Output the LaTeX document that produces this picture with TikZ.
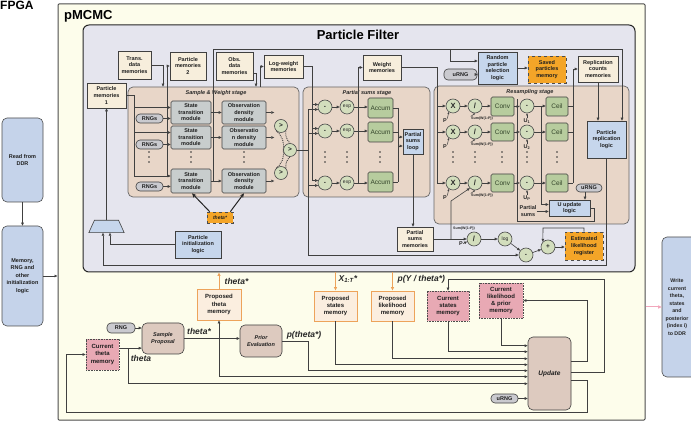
\documentclass[tikz,border=0pt]{standalone}
\usepackage{fontspec}
\setmainfont{Liberation Sans}
\usetikzlibrary{arrows.meta,shapes.geometric,calc}
\definecolor{cream}{HTML}{F7EEDC}
\definecolor{outerfill}{HTML}{FDFDEB}
\definecolor{pffill}{HTML}{E5E5EE}
\definecolor{stagefill}{HTML}{E8D6C8}
\definecolor{modfill}{HTML}{C8CDCD}
\definecolor{bluefill}{HTML}{C6D6EC}
\definecolor{orangefill}{HTML}{F4A528}
\definecolor{greenfill}{HTML}{B7CC9E}
\definecolor{greentext}{HTML}{33442A}
\definecolor{circfill}{HTML}{D3DEBD}
\definecolor{pinkfill}{HTML}{E8A9B4}
\definecolor{pillfill}{HTML}{CACACF}
\definecolor{tanfill}{HTML}{DDCABF}
\definecolor{propfill}{HTML}{FBEEDF}
\definecolor{propline}{HTML}{EDA35A}
\definecolor{ddrfill}{HTML}{C5D3EA}
\definecolor{pinkarrow}{HTML}{F2A7BC}
\tikzset{
  base/.style={draw=black!75, line width=0.6pt, inner sep=0.5pt, align=center, text=black!88, font=\fontsize{5.5}{6.6}\selectfont\bfseries},
  memb/.style={base, fill=cream},
  bluebox/.style={base, fill=bluefill},
  modb/.style={base, fill=modfill, rounded corners=1.5pt},
  orangebox/.style={base, fill=orangefill, dashed, draw=black!70},
  pinkbox/.style={base, fill=pinkfill, densely dotted, draw=black!70, line width=0.7pt, font=\fontsize{6}{7.2}\selectfont\bfseries},
  greenb/.style={base, fill=greenfill, rounded corners=1.5pt, text=greentext, font=\fontsize{6.5}{7}\selectfont},
  circ/.style={circle, draw=black!70, line width=0.6pt, fill=circfill, minimum size=14pt, inner sep=0pt, text=black!85, font=\fontsize{6.5}{7}\selectfont\bfseries},
  pill/.style={base, fill=pillfill, rounded corners=4pt},
  stagebox/.style={draw=black!60, line width=0.7pt, fill=stagefill, rounded corners=5pt},
  tanbox/.style={base, fill=tanfill, rounded corners=5pt, font=\fontsize{5.5}{6.6}\selectfont\bfseries\itshape},
  propmem/.style={base, draw=propline, line width=0.8pt, fill=propfill, font=\fontsize{6}{7.2}\selectfont\bfseries},
  ddrbox/.style={base, fill=ddrfill, rounded corners=5pt, draw=black!70, font=\fontsize{5.5}{7.5}\selectfont\bfseries},
  ln/.style={draw=black!75, line width=0.6pt},
  arr/.style={ln, -{Triangle[length=3pt,width=2.6pt]}},
  sarr/.style={ln, line width=0.5pt, -{Triangle[length=2pt,width=1.8pt]}},
  tarr/.style={draw=black!85, line width=1pt, -{Stealth[length=4.5pt,width=4pt]}},
  oarr/.style={draw=propline, line width=1pt, -{Triangle[length=3.5pt,width=3pt]}},
  lab/.style={font=\fontsize{8.5}{9}\selectfont\bfseries\itshape, text=black!85, inner sep=0.5pt},
  stlab/.style={font=\fontsize{5.5}{6}\selectfont\bfseries\itshape, text=black!85, inner sep=0.5pt},
  tinytxt/.style={font=\fontsize{3.6}{4}\selectfont\bfseries, inner sep=0.2pt, text=black!85},
  smalltxt/.style={font=\fontsize{5.5}{6.2}\selectfont\bfseries, align=center, inner sep=0.3pt, text=black!85},
  dotarc/.style={densely dotted, line width=0.9pt, black!75}
}
\newcommand{\MyBox}[7]{\node[#1, minimum width={(#5-#3)*1pt}, minimum height={(#6-#4)*1pt}] (#2) at ({(#3+#5)/2},{(#4+#6)/2}) {#7};}
\newcommand{\DotCol}[2]{\foreach \dy in {-5,0,5}{\fill[black!80] (#1,{#2+(\dy)}) circle (0.9pt);}}
\begin{document}
\begin{tikzpicture}[x=1pt,y=-1pt]
\useasboundingbox (0,0) rectangle (691,430);

% ---------- outer frames ----------
\node[anchor=base west, font=\fontsize{12}{12}\selectfont\bfseries, inner sep=0] (fpga) at (0,9.5) {FPGA};
\MyBox{draw=black!70, line width=1pt, fill=outerfill, rounded corners=1pt}{pmcmc}{58}{4}{645}{420}{}
\node[anchor=base west, font=\fontsize{13}{13}\selectfont\bfseries, inner sep=0] (pmlab) at (64,20) {pMCMC};

\MyBox{ddrbox}{rddr}{2}{118}{43}{202}{Read from\\DDR}
\MyBox{ddrbox}{minit}{2}{226}{43}{326}{Memory,\\RNG and\\other\\initialization\\logic}
\MyBox{ddrbox}{wddr}{662}{237}{700}{377}{}
\node[smalltxt, font=\fontsize{5.3}{7.5}\selectfont\bfseries] (wtxt) at (677,307) {Write\\current\\theta,\\states\\and\\posterior\\(index i)\\to DDR};
\draw[arr] (rddr) -- (minit);
\draw[arr] (minit.east) -- (minit.east -| pmcmc.west);
\draw[draw=pinkarrow, line width=1pt, -{Triangle[length=3.5pt,width=3pt]}] (pmcmc.east |- wddr.west) -- (wddr.west);

% ---------- particle filter ----------
\MyBox{draw=black!85, line width=1pt, fill=pffill, rounded corners=6pt}{pf}{83}{25}{635}{272}{}
\node[font=\fontsize{13}{13}\selectfont\bfseries, inner sep=0] (pftitle) at (358,35) {Particle Filter};

\MyBox{stagebox}{sw}{128}{87}{299}{197}{}
\MyBox{stagebox}{ps}{303}{87}{430}{197}{}
\MyBox{stagebox}{rs}{434}{86}{629}{224}{}
\node[stlab] (swlab) at (216,93) {Sample \& Weight stage};
\node[stlab] (pslab) at (367,93) {Partial sums stage};
\node[stlab] (rslab) at (530,92.5) {Resampling stage};

% top memories
\MyBox{memb}{trans}{118}{51}{151}{79}{Trans.\\data\\memories}
\MyBox{memb}{pm2}{170}{52}{206}{80}{Particle\\memories\\2}
\MyBox{memb}{obs}{216}{52}{253}{80}{Obs.\\data\\memories}
\MyBox{memb}{logw}{264}{55}{303}{78}{Log-weight\\memories}
\MyBox{memb}{wmem}{363}{55}{401}{80}{Weight\\memories}
\MyBox{bluebox}{rand}{478}{52}{517}{84}{Random\\particle\\selection\\logic}
\MyBox{orangebox}{saved}{528}{56}{566}{83}{Saved\\particles\\memory}
\MyBox{memb}{repc}{578}{56}{618}{82}{Replication\\counts\\memories}
\MyBox{pill}{urng1}{444}{69}{477}{80}{uRNG}
\MyBox{memb}{pm1}{87}{83}{126}{108}{Particle\\memories\\1}

% sample & weight stage
\MyBox{pill}{r1}{136}{114}{163}{123}{RNGs}
\MyBox{pill}{r2}{136}{140}{163}{149}{RNGs}
\MyBox{pill}{r3}{136}{182}{163}{191}{RNGs}
\MyBox{modb}{st1}{171}{101}{211}{124}{State\\transition\\module}
\MyBox{modb}{st2}{171}{126}{211}{149}{State\\transition\\module}
\MyBox{modb}{st3}{171}{169}{211}{193}{State\\transition\\module}
\MyBox{modb}{od1}{222}{101}{266}{124}{Observation\\density\\module}
\MyBox{modb}{od2}{222}{126}{266}{149}{Observatio\\n density\\module}
\MyBox{modb}{od3}{222}{169}{266}{193}{Observation\\density\\module}
\node[circ, minimum size=13pt] (gt1) at (281,126) {>};
\node[circ, minimum size=13pt] (gt2) at (290,150) {>};
\node[circ, minimum size=13pt] (gt3) at (281,173) {>};
\DotCol{149}{157}
\DotCol{191}{157}
\DotCol{244}{157}
\MyBox{orangebox, font=\fontsize{5}{6}\selectfont\bfseries\itshape}{thst}{207}{212}{233}{223}{theta*}

% partial sums stage
\node[circ] (m1) at (325,107) {-};
\node[circ] (m2) at (325,131) {-};
\node[circ] (m3) at (325,183) {-};
\node[circ, font=\fontsize{5}{6}\selectfont] (e1) at (347,107) {exp};
\node[circ, font=\fontsize{5}{6}\selectfont] (e2) at (347,131) {exp};
\node[circ, font=\fontsize{5}{6}\selectfont] (e3) at (347,183) {exp};
\MyBox{greenb}{acc1}{368}{98}{393}{118}{Accum}
\MyBox{greenb}{acc2}{368}{122}{393}{142}{Accum}
\MyBox{greenb}{acc3}{368}{172}{393}{192}{Accum}
\MyBox{bluebox}{psl}{403}{129}{423}{154}{Partial\\sums\\loop}
\DotCol{325}{157}
\DotCol{347}{157}
\DotCol{380}{157}

% resampling stage
\node[circ, font=\fontsize{7.5}{8}\selectfont\bfseries] (x1) at (453,106) {X};
\node[circ, font=\fontsize{7.5}{8}\selectfont\bfseries] (x2) at (453,132) {X};
\node[circ, font=\fontsize{7.5}{8}\selectfont\bfseries] (x3) at (453,183) {X};
\node[circ, font=\fontsize{7.5}{8}\selectfont\bfseries] (d1) at (475,106) {/};
\node[circ, font=\fontsize{7.5}{8}\selectfont\bfseries] (d2) at (475,132) {/};
\node[circ, font=\fontsize{7.5}{8}\selectfont\bfseries] (d3) at (475,183) {/};
\MyBox{greenb}{cv1}{491}{97}{514}{116}{Conv}
\MyBox{greenb}{cv2}{491}{123}{514}{141}{Conv}
\MyBox{greenb}{cv3}{491}{174}{514}{192}{Conv}
\node[circ] (s1) at (527,106) {-};
\node[circ] (s2) at (527,132) {-};
\node[circ] (s3) at (527,183) {-};
\MyBox{greenb}{ce1}{546}{97}{568}{116}{Ceil}
\MyBox{greenb}{ce2}{546}{123}{568}{141}{Ceil}
\MyBox{greenb}{ce3}{546}{174}{568}{192}{Ceil}
\DotCol{453}{157}
\DotCol{475}{157}
\DotCol{502}{157}
\DotCol{527}{157}
\DotCol{557}{157}
\MyBox{bluebox}{prl}{587}{121}{626}{158}{Particle\\replication\\logic}
\MyBox{pill}{urng2}{576}{184}{602}{192}{uRNG}
\MyBox{bluebox}{uup}{549}{200}{590}{216}{U update\\logic}
\node[smalltxt] (pslab2) at (528,211) {Partial\\sums};
\node[smalltxt] (pl1) at (445,121) {P};
\node[smalltxt] (pl2) at (445,147) {P};
\node[smalltxt] (pl3) at (445,198) {P};
\node[tinytxt] (sl1) at (482,118.5) {Sum(W(1:P))};
\node[tinytxt] (sl2) at (482,144.5) {Sum(W(1:P))};
\node[tinytxt] (sl3) at (482,195.5) {Sum(W(1:P))};
\node[smalltxt] (ul1) at (527,121) {U\textsubscript{1}};
\node[smalltxt] (ul2) at (527,147) {U\textsubscript{2}};
\node[smalltxt] (ul3) at (527,198) {U\textsubscript{P}};

% bottom of particle filter
\node[minimum width=35pt, minimum height=12pt, inner sep=0pt] (mux) at (106.5,226.5) {};
\filldraw[draw=black!75, fill=bluefill, line width=0.6pt] (mux.south west) -- (mux.south east) -- ($(mux.north east)+(-5.6,0)$) -- ($(mux.north west)+(5.6,0)$) -- cycle;
\MyBox{bluebox}{pil}{175}{231}{221}{258}{Particle\\initialization\\logic}
\MyBox{memb}{psm}{397}{227}{433}{251}{Partial\\sums\\memories}
\node[smalltxt] (plab) at (461,243.5) {P};
\node[tinytxt] (sl4) at (464,229) {Sum(W(1:P))};
\node[circ, font=\fontsize{7.5}{8}\selectfont\bfseries] (dd) at (474,239) {/};
\node[circ, font=\fontsize{5}{6}\selectfont] (lgc) at (505,239) {log};
\node[circ] (sub) at (526,255) {-};
\node[circ] (plus) at (548,247) {+};
\MyBox{orangebox}{reg}{565}{232}{603}{260}{Estimated\\likelihood\\register}

% ---------- connectors inside PF ----------
\coordinate (c134) at (134,0);
\coordinate (c163) at (163,0);
\coordinate (c167) at (167,0);
\coordinate (c256) at (256,0);
\coordinate (c260) at (260,0);
\coordinate (c308) at (308,0);
\coordinate (c312) at (312,0);
\coordinate (c358) at (358,0);
\coordinate (c398) at (398,0);
\coordinate (c437) at (437,0);
\coordinate (c541) at (541,0);
\coordinate (c573) at (573,0);
\coordinate (b49) at (213,49);
\coordinate (c450) at (450,49);
\coordinate (c622) at (622,49);
\coordinate (p1) at ($(st1.west)+(0,-5)$);
\coordinate (p2) at ($(st2.west)+(0,-5)$);
\coordinate (p3) at ($(st3.west)+(0,-5)$);

% particle memories 1 bus and RNGs
\draw[ln] (pm1.east) -- (pm1.east -| c134) -- (c134 |- p3);
\draw[arr] (p1 -| c134) -- (p1);
\draw[arr] (p2 -| c134) -- (p2);
\draw[arr] (p3 -| c134) -- (p3);
\draw[arr] (r1.east) -- (r1.east -| st1.west);
\draw[arr] (r2.east) -- (r2.east -| st2.west);
\draw[arr] (r3.east) -- (r3.east -| st3.west);
\draw[arr] (p3 -| c167) -- (c167 |- pm2.west) -- (pm2.west);
\draw[arr] (trans.east) -- (trans.east -| c163) -- (c163 |- sw.north);
\coordinate (oA) at ($(obs.north east)!0.75!(obs.south east)$);
\draw[arr] (oA) -- (oA -| c256) -- (c256 |- sw.north);
\draw[arr] (c260 |- sw.north) -- (c260 |- logw.west) -- (logw.west);

% state -> observation, outputs
\draw[arr] (st1.east) -- (st1.east -| od1.west);
\draw[arr] (st2.east) -- (st2.east -| od2.west);
\draw[arr] (st3.east) -- (st3.east -| od3.west);
\draw[arr] (od1.east) -- ++(8,0);
\draw[arr] (od2.east) -- ++(8,0);
\draw[arr] (od3.east) -- ++(8,0);
\draw[dotarc] (gt1.south east) to[bend right=25] (gt2.north);
\draw[dotarc] (gt1.south west) to[bend left=30] (gt2.west);
\draw[dotarc] (gt3.north west) to[bend right=30] (gt2.west);
\draw[dotarc] (gt3.north east) to[bend left=25] (gt2.south);
\draw[tarr] ($(thst.north west)+(3,0)$) -- ($(st3.south)+(1,0)$);
\draw[tarr] ($(thst.north east)+(-3,0)$) -- (od3.south);

% new particles to selection / replication
\draw[arr] (st3.east -| b49) -- (b49) -- (c622) -- (c622 |- prl.north);
\draw[arr] (c450) |- ($(rand.west)+(0,-7)$);
\draw[arr] (urng1.east) -- (urng1.east -| rand.west);
\draw[arr] (rand.east) -- (rand.east -| saved.west);

% log-weights and max
\draw[ln] (logw.east) -- (logw.east -| c312) -- (c312 |- m3.160);
\draw[arr] (m1.160 -| c312) -- (m1.160);
\draw[arr] (m2.160 -| c312) -- (m2.160);
\draw[arr] (m3.160 -| c312) -- (m3.160);
\draw[ln] (gt2.east) -- (gt2.east -| c308);
\draw[ln] (c308 |- m1.200) -- (c308 |- sub.west);
\draw[arr] (m1.200 -| c308) -- (m1.200);
\draw[arr] (m2.200 -| c308) -- (m2.200);
\draw[arr] (m3.200 -| c308) -- (m3.200);
\draw[arr] (c308 |- sub.west) -- (sub.west);

% partial sums stage
\draw[arr] (m1) -- (e1);
\draw[arr] (m2) -- (e2);
\draw[arr] (m3) -- (e3);
\draw[arr] (e1.east) -- (e1.east -| acc1.west);
\draw[arr] (e2.east) -- (e2.east -| acc2.west);
\draw[arr] (e3.east) -- (e3.east -| acc3.west);
\draw[arr] (e3.east -| c358) -- (c358 |- wmem.west) -- (wmem.west);
\draw[ln] (acc1.east) -- (acc1.east -| c398);
\draw[ln] (acc2.east) -- (acc2.east -| c398);
\draw[ln] (acc3.east) -- (acc3.east -| c398);
\draw[ln] (acc1.east -| c398) -- (acc3.east -| c398);
\coordinate (pa1) at ($(psl.west)+(0,-4.5)$);
\coordinate (pa2) at ($(psl.west)+(0,4.5)$);
\draw[arr] (pa1 -| c398) -- (pa1);
\draw[arr] (pa2 -| c398) -- (pa2);
\draw[arr] (psl.south) -- (psl.south |- psm.north);

% resampling stage
\draw[ln] (wmem.east) -- (wmem.east -| c437) -- (c437 |- x3.west);
\draw[arr] (x1.west -| c437) -- (x1.west);
\draw[arr] (x2.west -| c437) -- (x2.west);
\draw[arr] (x3.west -| c437) -- (x3.west);
\foreach \r in {1,2,3}{
  \draw[arr] (x\r) -- (d\r);
  \draw[arr] (d\r.east) -- (d\r.east -| cv\r.west);
  \draw[arr] (cv\r.east) -- (cv\r.east -| s\r.west);
  \draw[arr] (s\r.east) -- (s\r.east -| ce\r.west);
  \draw[ln] (ce\r.east) -- (ce\r.east -| c573);
  \draw[sarr] (pl\r.north east) -- (x\r.235);
  \draw[sarr] (sl\r.north west) -- (d\r.south);
  \draw[sarr] (ul\r.north) -- (s\r.south);
}
\draw[arr] (ce3.east -| c573) -- (c573 |- repc.west) -- (repc.west);
\draw[arr] (repc.south) -- (repc.south |- prl.north);
\coordinate (uw1) at ($(uup.west)+(0,-3.5)$);
\coordinate (uw2) at ($(uup.west)+(0,3.5)$);
\draw[arr] (s1.east -| c541) -- (uw1 -| c541) -- (uw1);
\draw[arr] (uw2 -| pslab2.east) -- (uw2);
\draw[arr] ([xshift=-4pt]urng2.south) -- ([xshift=-4pt]urng2.south |- uup.north);
\coordinate (lp) at (517,221);
\draw[ln] (uup.east) -- ++(4,0) |- (lp) -- (lp |- s1.north);

% particle replication back to memories
\coordinate (rl) at (103,265);
\draw[arr] (prl.south) |- (rl) -- ($(mux.south)+(-3.5,0)$);
\draw[arr] (pil.west) -| ($(mux.south)+(3.5,0)$);
\draw[arr] (mux.north) -- (pm1.south);

% likelihood chain
\coordinate (sbt) at (451,201);
\draw[arr] (psm.east) -- (dd.west);
\draw[arr] (psm.east -| sbt) -- (sbt) -- (d3.south west);
\draw[arr] (plab.east) -- (dd.200);
\draw[arr] (dd) -- (lgc);
\draw[arr] (lgc) -- (sub);
\draw[arr] (sub) -- (plus);
\draw[arr] (plus.east) -- (plus.east -| reg.west);
\coordinate (rf) at (543,228);
\draw[arr] (reg.north) |- (rf) -- (plus.north west);

% ---------- pMCMC level ----------
\MyBox{propmem}{ptm}{197}{289}{241}{320}{Proposed\\theta\\memory}
\MyBox{propmem}{psmem}{314}{291}{357}{321}{Proposed\\states\\memory}
\MyBox{propmem}{plm}{371}{291}{414}{321}{Proposed\\likelihood\\memory}
\MyBox{pinkbox}{csm}{427}{291}{469}{321}{Current\\states\\memory}
\MyBox{pinkbox}{clm}{479}{283}{523}{318}{Current\\likelihood\\\& prior\\memory}
\MyBox{pill}{rng3}{107}{323}{135}{333}{RNG}
\MyBox{tanbox}{sp}{142}{323}{184}{354}{Sample\\Proposal}
\MyBox{tanbox}{pe}{240}{325}{282}{357}{Prior\\Evaluation}
\MyBox{pinkbox}{ctm}{86}{339}{119}{370}{Current\\theta\\memory}
\MyBox{tanbox, font=\fontsize{6.5}{7}\selectfont\bfseries\itshape}{upd}{528}{337}{571}{410}{Update}
\MyBox{pill}{urng3}{491}{394}{518}{403}{uRNG}

\draw[oarr] (ptm.north) -- (ptm.north |- pf.south);
\draw[oarr] (psmem.north |- pf.south) -- (psmem.north);
\draw[oarr] (plm.north |- pf.south) -- (plm.north);
\node[lab, anchor=west] (lth2) at (224,281) {theta*};
\node[lab, anchor=west] (lx) at (338,279) {X\textsubscript{1:T}*};
\node[lab, anchor=west] (lpy) at (397,279) {p(Y / theta*)};

\coordinate (thj) at (128,0);
\coordinate (tsx) at (219,0);
\coordinate (pex) at (308,0);
\coordinate (tA) at ($(ctm.north east)!0.3!(ctm.south east)$);
\foreach \i/\dd in {1/9,2/15,3/22,4/28,5/34,6/40,7/47}{
  \coordinate (ui\i) at ($(upd.north west)+(0,\dd)$);
}
\draw[arr] (rng3.east) -- (rng3.east -| sp.west);
\draw[arr] (tA) -- (tA -| sp.west);
\draw[arr] (tA -| thj) |- (ui7);
\draw[arr] (sp.east) -- (sp.east -| pe.west);
\draw[arr] (sp.east -| tsx) -- (ptm.south);
\draw[arr] (sp.east -| tsx) |- (ui6);
\draw[arr] (pe.east) -- (pe.east -| pex) |- (ui5);
\draw[arr] (psmem.south) |- (ui4);
\draw[arr] (plm.south) |- (ui3);
\draw[arr] (csm.south) |- (ui2);
\draw[arr] (clm.south) |- (ui1);
\draw[arr] (urng3.east) -- (urng3.east -| upd.west);
\node[lab] (lthst) at (199,331) {theta*};
\node[lab] (ltheta) at (141,358) {theta};
\node[lab] (lpth) at (304,335) {p(theta*)};

\coordinate (uo1) at ($(upd.north east)+(0,25)$);
\coordinate (uo2) at ($(upd.north east)+(0,36)$);
\coordinate (uo3) at ($(upd.north east)+(0,44)$);
\coordinate (lowL) at (66,412);
\draw[arr] (uo1) -- ++(16,0) |- (clm.east);
\draw[arr] (uo2) -- ++(33,0) |- ($(csm.north)+(0,-11)$) -- (csm.north);
\draw[arr] (uo3) -- ++(16,0) |- (lowL) |- (ctm.west);
\end{tikzpicture}
\end{document}
